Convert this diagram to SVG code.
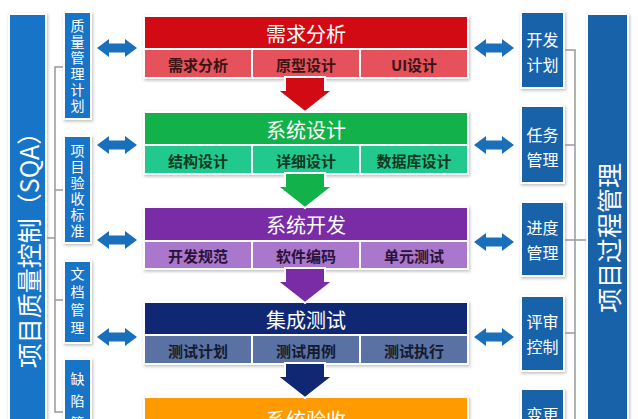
<svg xmlns="http://www.w3.org/2000/svg" width="638" height="419" viewBox="0 0 638 419">
<defs>
<filter id="sh" x="-10%" y="-10%" width="130%" height="130%">
<feDropShadow dx="1" dy="1.5" stdDeviation="1.5" flood-color="#888" flood-opacity="0.55"/>
</filter>
<path id="dbl" d="M-20,0 L-8,-9 L-8,-4.5 L8,-4.5 L8,-9 L20,0 L8,9 L8,4.5 L-8,4.5 L-8,9 Z"/>
<path id="down" d="M-20,0 L20,0 L20,13 L28,13 L0,35 L-28,13 L-20,13 Z"/>
<style>
text{font-family:"Noto Sans CJK SC","Noto Sans",sans-serif;}
.hd{font-size:20px;fill:#fff;text-anchor:middle;dominant-baseline:central;}
.sb{font-size:15px;font-weight:bold;text-anchor:middle;dominant-baseline:central;}
.vt{font-size:14px;fill:#fff;text-anchor:middle;dominant-baseline:central;}
.rt{font-size:16px;fill:#fff;text-anchor:middle;dominant-baseline:central;}
.big{font-size:25px;fill:#fff;text-anchor:middle;dominant-baseline:central;}
.lb{fill:#1874c6;}
.rb{fill:#1862aa;}
.frame{fill:#fff;filter:url(#sh);}
.da{fill:#1a6fbd;}
.ln{stroke:#999;stroke-width:1.5;fill:none;}
.div{stroke:#fff;stroke-width:2;}
</style>
</defs>
<rect width="638" height="419" fill="#fff"/>

<!-- left big bar -->
<g id="sqa">
<rect class="frame" x="8" y="13" width="39" height="420"/>
<rect class="lb" x="10" y="15" width="35" height="420"/>
<text class="big" transform="translate(27.5,244) rotate(-90)">项目质量控制（SQA）</text>
</g>

<!-- right big bar -->
<g id="process">
<rect class="frame" x="586" y="13" width="43" height="420"/>
<rect class="rb" x="588" y="15" width="39" height="420"/>
<text class="big" transform="translate(607.5,238) rotate(-90)">项目过程管理</text>
</g>

<!-- left small boxes -->
<g id="l1">
<rect class="frame" x="63" y="11" width="29" height="109"/>
<rect class="lb" x="65" y="13" width="25" height="105"/>
<text class="vt"><tspan x="77.5" y="25">质</tspan><tspan x="77.5" y="41">量</tspan><tspan x="77.5" y="57">管</tspan><tspan x="77.5" y="73">理</tspan><tspan x="77.5" y="89">计</tspan><tspan x="77.5" y="105">划</tspan></text>
</g>
<g id="l2">
<rect class="frame" x="63" y="135" width="29" height="109"/>
<rect class="lb" x="65" y="137" width="25" height="105"/>
<text class="vt"><tspan x="77.5" y="150">项</tspan><tspan x="77.5" y="166">目</tspan><tspan x="77.5" y="182">验</tspan><tspan x="77.5" y="198">收</tspan><tspan x="77.5" y="214">标</tspan><tspan x="77.5" y="230">准</tspan></text>
</g>
<g id="l3">
<rect class="frame" x="63" y="260" width="29" height="84"/>
<rect class="lb" x="65" y="262" width="25" height="80"/>
<text class="vt"><tspan x="77.5" y="273">文</tspan><tspan x="77.5" y="291">档</tspan><tspan x="77.5" y="309">管</tspan><tspan x="77.5" y="327">理</tspan></text>
</g>
<g id="l4">
<rect class="frame" x="63" y="358" width="29" height="80"/>
<rect class="lb" x="65" y="360" width="25" height="80"/>
<text class="vt"><tspan x="77.5" y="378">缺</tspan><tspan x="77.5" y="400">陷</tspan><tspan x="77.5" y="422">管</tspan></text>
</g>

<!-- right small boxes -->
<g id="r1">
<rect class="frame" x="520" y="11" width="45" height="78"/>
<rect class="rb" x="522" y="13" width="41" height="74"/>
<text class="rt" x="542.5" y="39">开发</text><text class="rt" x="542.5" y="64">计划</text>
</g>
<g id="r2">
<rect class="frame" x="520" y="105" width="45" height="79"/>
<rect class="rb" x="522" y="107" width="41" height="75"/>
<text class="rt" x="542.5" y="134">任务</text><text class="rt" x="542.5" y="159">管理</text>
</g>
<g id="r3">
<rect class="frame" x="520" y="201" width="45" height="76"/>
<rect class="rb" x="522" y="203" width="41" height="72"/>
<text class="rt" x="542.5" y="227">进度</text><text class="rt" x="542.5" y="252">管理</text>
</g>
<g id="r4">
<rect class="frame" x="520" y="295" width="45" height="77"/>
<rect class="rb" x="522" y="297" width="41" height="73"/>
<text class="rt" x="542.5" y="321">评审</text><text class="rt" x="542.5" y="346">控制</text>
</g>
<g id="r5">
<rect class="frame" x="520" y="388" width="45" height="50"/>
<rect class="rb" x="522" y="390" width="41" height="50"/>
<text class="rt" x="542.5" y="414">变更</text>
</g>

<!-- main flow boxes -->
<g id="m1">
<rect class="frame" x="143" y="15" width="326" height="64"/>
<rect x="145" y="17" width="322" height="32" fill="#d20a14"/>
<rect x="145" y="49" width="322" height="28" fill="#e5525c"/>
<line class="div" x1="145" y1="49" x2="467" y2="49"/>
<line class="div" x1="252" y1="49" x2="252" y2="77"/>
<line class="div" x1="360" y1="49" x2="360" y2="77"/>
<text class="hd" x="306" y="33">需求分析</text>
<text class="sb" fill="#3a1414" x="198" y="64">需求分析</text>
<text class="sb" fill="#3a1414" x="306" y="64">原型设计</text>
<text class="sb" fill="#3a1414" x="414" y="64">UI设计</text>
</g>
<g id="m2">
<rect class="frame" x="143" y="111" width="326" height="64"/>
<rect x="145" y="113" width="322" height="32" fill="#12b14a"/>
<rect x="145" y="145" width="322" height="28" fill="#22c98e"/>
<line class="div" x1="145" y1="145" x2="467" y2="145"/>
<line class="div" x1="252" y1="145" x2="252" y2="173"/>
<line class="div" x1="360" y1="145" x2="360" y2="173"/>
<text class="hd" x="306" y="129">系统设计</text>
<text class="sb" fill="#0e3a22" x="198" y="160">结构设计</text>
<text class="sb" fill="#0e3a22" x="306" y="160">详细设计</text>
<text class="sb" fill="#0e3a22" x="414" y="160">数据库设计</text>
</g>
<g id="m3">
<rect class="frame" x="143" y="206" width="326" height="64"/>
<rect x="145" y="208" width="322" height="33" fill="#7a2ba6"/>
<rect x="145" y="241" width="322" height="27" fill="#a977cc"/>
<line class="div" x1="145" y1="241" x2="467" y2="241"/>
<line class="div" x1="252" y1="241" x2="252" y2="268"/>
<line class="div" x1="360" y1="241" x2="360" y2="268"/>
<text class="hd" x="306" y="224">系统开发</text>
<text class="sb" fill="#2a1238" x="198" y="255">开发规范</text>
<text class="sb" fill="#2a1238" x="306" y="255">软件编码</text>
<text class="sb" fill="#2a1238" x="414" y="255">单元测试</text>
</g>
<g id="m4">
<rect class="frame" x="143" y="301" width="326" height="64"/>
<rect x="145" y="303" width="322" height="32" fill="#102874"/>
<rect x="145" y="335" width="322" height="28" fill="#5a72a3"/>
<line class="div" x1="145" y1="335" x2="467" y2="335"/>
<line class="div" x1="252" y1="335" x2="252" y2="363"/>
<line class="div" x1="360" y1="335" x2="360" y2="363"/>
<text class="hd" x="306" y="319">集成测试</text>
<text class="sb" fill="#141a2e" x="198" y="350">测试计划</text>
<text class="sb" fill="#141a2e" x="306" y="350">测试用例</text>
<text class="sb" fill="#141a2e" x="414" y="350">测试执行</text>
</g>
<g id="m5">
<rect class="frame" x="143" y="396" width="326" height="40"/>
<rect x="145" y="398" width="322" height="40" fill="#ff9a00"/>
<text class="hd" x="306" y="419">系统验收</text>
</g>

<!-- connectors -->
<g id="connectors">
<use href="#down" x="305" y="77" fill="#d20a14" stroke="#fff" stroke-width="2"/>
<use href="#down" x="305" y="173" fill="#12b14a" stroke="#fff" stroke-width="2"/>
<use href="#down" x="305" y="268" fill="#7a2ba6" stroke="#fff" stroke-width="2"/>
<use href="#down" x="305" y="363" fill="#102874" stroke="#fff" stroke-width="2"/>

<use href="#dbl" class="da" x="117" y="48"/>
<use href="#dbl" class="da" x="117" y="145"/>
<use href="#dbl" class="da" x="117" y="240"/>
<use href="#dbl" class="da" x="117" y="337"/>
<use href="#dbl" class="da" x="494" y="48"/>
<use href="#dbl" class="da" x="494" y="145"/>
<use href="#dbl" class="da" x="494" y="242"/>
<use href="#dbl" class="da" x="494" y="337"/>

<path class="ln" d="M63,67 H55 V412 H63 M55,190 H63 M55,300 H63 M47,238 H55"/>
<path class="ln" d="M565,50 H575 V425 M565,145 H575 M565,240 H586 M565,333 H575"/>
</g>
</svg>
